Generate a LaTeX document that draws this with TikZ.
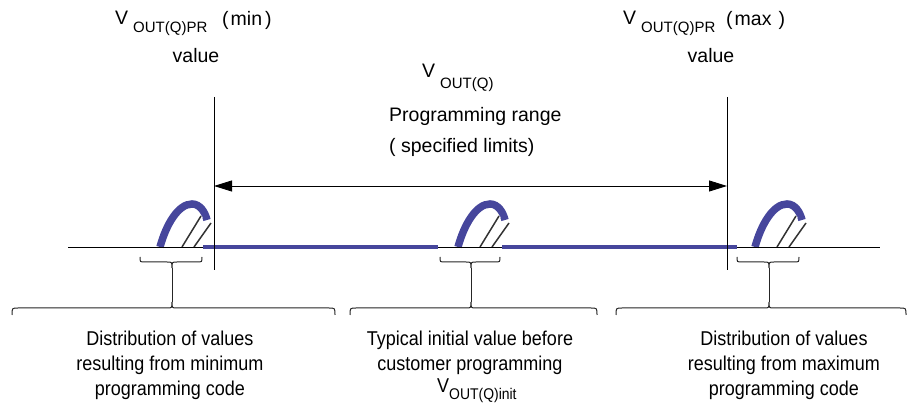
\documentclass[tikz,border=0pt]{standalone}
\usepackage{fontspec}
\setmainfont{Liberation Sans}
\newfontfamily\narrowfont[FakeStretch=0.9]{Liberation Sans}
\usetikzlibrary{arrows.meta}
\definecolor{humpblue}{RGB}{70,70,156}
\tikzset{
  toptext/.style={font=\fontsize{19.5}{23}\selectfont, inner sep=0pt, anchor=base west},
  subtext/.style={font=\fontsize{15}{18}\selectfont, inner sep=0pt, anchor=base west},
  bottext/.style={font=\narrowfont\fontsize{20}{25}\selectfont, inner sep=0pt, anchor=base},
  thinline/.style={line width=0.9pt, black},
  blueline/.style={humpblue, line width=4pt},
  bracestyle/.style={line width=1pt, black!85},
  hump/.pic={
    \draw[humpblue, line width=7.5pt] (4,0) .. controls (10,-22) and (22,-43) .. (36,-43)
      .. controls (44,-43) and (49,-35) .. (51,-27);
    \draw[white, line width=4pt] (26,1) -- (45,-31);
    \draw[black!80, line width=1.5pt] (26,0) -- (45,-31);
    \draw[white, line width=4pt] (38,1) -- (55,-24);
    \draw[black!80, line width=1.5pt] (38,0) -- (55,-24);
  }
}
\begin{document}
\begin{tikzpicture}[x=1pt,y=-1pt]
\useasboundingbox[fill=white] (0,0) rectangle (919,411);

% humps
\pic at (156,247) {hump};
\pic at (454,247) {hump};
\pic at (751,247) {hump};

% axis
\coordinate (axL) at (68,247);
\coordinate (axR) at (880,247);
\draw[thinline] (axL) -- (axR);

% blue segments
\coordinate (b1s) at (203,247); \coordinate (b1e) at (438,247);
\coordinate (b2s) at (502,247); \coordinate (b2e) at (737,247);
\draw[blueline] (b1s) -- (b1e);
\draw[blueline] (b2s) -- (b2e);

% vertical limit lines
\coordinate (vLt) at (214,97); \coordinate (vLb) at (214,270);
\coordinate (vRt) at (727,97); \coordinate (vRb) at (727,270);
\draw[line width=1pt] (vLt) -- (vLb);
\draw[line width=1pt] (vRt) -- (vRb);

% range arrow
\coordinate (arL) at (214,186); \coordinate (arR) at (727,186);
\draw[line width=0.9pt, {Triangle[length=18pt,width=11pt]}-{Triangle[length=18pt,width=11pt]}] (arL) -- (arR);

% small braces and big braces
\foreach \a/\b/\c/\A/\B/\n in {140/202/172/12/335/1, 440/500/471/350/597/2, 737/799/769/616/906/3}{
  \draw[bracestyle] (\a,257) .. controls (\a,262) .. (\a+5,262) -- (\c-5,262)
     .. controls (\c,262) .. (\c,268) .. controls (\c,262) .. (\c+5,262)
     -- (\b-5,262) .. controls (\b,262) .. (\b,257);
  \coordinate (sc\n) at (\c,268);
  \coordinate (bc\n) at (\c,302);
  \draw[bracestyle] (sc\n) -- (bc\n);
  \draw[bracestyle] (\A,315) .. controls (\A,308) .. (\A+6,308) -- (\c-5,308)
     .. controls (\c,308) .. (\c,302) .. controls (\c,308) .. (\c+5,308)
     -- (\B-6,308) .. controls (\B,308) .. (\B,315);
}

% top left label
\node[toptext] (vminV) at (115,25) {V};
\node[subtext] (vminS) at (133,33) {OUT(Q)PR};
\node[toptext] (vminP) at (222,26) {(\hspace{2pt}min\hspace{3pt})};
\node[toptext, anchor=base] (vminval) at (196,63) {value};

% top right label
\node[toptext] (vmaxV) at (623,25) {V};
\node[subtext] (vmaxS) at (641,33) {OUT(Q)PR};
\node[toptext] (vmaxP) at (726,26) {(\hspace{2pt}max\hspace{7pt})};
\node[toptext, anchor=base] (vmaxval) at (711,63) {value};

% middle label
\node[toptext] (vrV) at (422,78) {V};
\node[subtext] (vrS) at (440,89) {OUT(Q)};
\node[toptext] (vrP) at (389,122) {Programming range};
\node[toptext] (vrL) at (389,153) {( specified limits)};

% bottom texts
\node[bottext] (d1a) at (170,346) {Distribution of values};
\node[bottext] (d1b) at (170,371) {resulting from minimum};
\node[bottext] (d1c) at (170,396) {programming code};

\node[bottext] (d2a) at (470,346) {Typical initial value before};
\node[bottext] (d2b) at (470,371) {customer programming};
\node[bottext, anchor=base west] (d2V) at (437,393) {V};
\node[font=\narrowfont\fontsize{15.5}{18}\selectfont, inner sep=0pt, anchor=base west] (d2S) at (449,400) {OUT(Q)init};

\node[bottext] (d3a) at (784,346) {Distribution of values};
\node[bottext] (d3b) at (784,371) {resulting from maximum};
\node[bottext] (d3c) at (784,396) {programming code};
\end{tikzpicture}
\end{document}
